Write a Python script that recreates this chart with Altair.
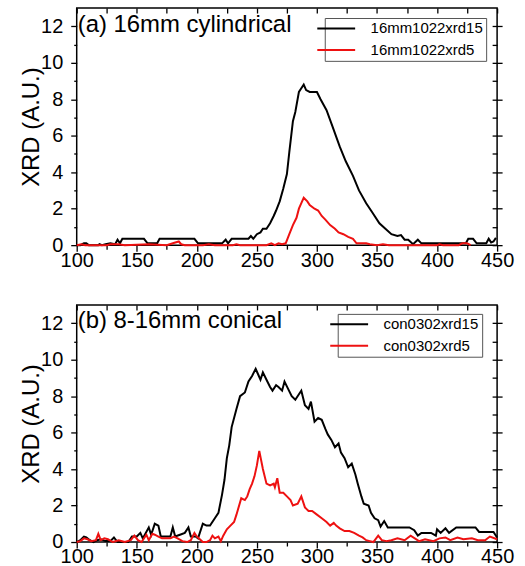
import altair as alt
import pandas as pd

FONT = "Liberation Sans"

# ---------------- data ----------------
panel_titles = ["(a) 16mm cylindrical", "(b) 8-16mm conical"]
a_series = ["16mm1022xrd15", "16mm1022xrd5"]
b_series = ["con0302xrd15", "con0302xrd5"]

a_black_x = [100, 103, 106, 108, 110, 118, 119, 121, 124, 128, 132, 134, 136, 138, 156, 159, 167, 169, 198, 201,
             221, 224, 226, 229, 243, 245, 247, 250, 253, 255, 258, 261, 264, 266, 269, 272, 275, 277, 280, 282,
             285, 287, 289, 291, 294, 300, 303, 308, 313, 319, 324, 330, 335, 341, 346, 352, 357, 362, 367, 370,
             373, 376, 380, 384, 387, 424, 426, 430, 433, 441, 443, 445, 447, 449]
a_black_y = [0.0, 0.0, 0.1, 0.1, 0.0, 0.0, 0.05, 0.0, 0.05, 0.1, 0.05, 0.3, 0.1, 0.35, 0.35, 0.1, 0.1, 0.35, 0.35, 0.1,
             0.1, 0.3, 0.1, 0.35, 0.35, 0.5, 0.35, 0.6, 0.7, 0.9, 0.9, 1.2, 1.6, 1.9, 2.4, 3.1, 3.9, 5.1, 6.8, 7.3,
             8.4, 8.6, 8.8, 8.5, 8.4, 8.4, 8.0, 7.4, 6.5, 5.4, 4.6, 3.8, 3.0, 2.3, 1.8, 1.2, 0.9, 0.6, 0.5, 0.55,
             0.3, 0.3, 0.05, 0.3, 0.1, 0.1, 0.35, 0.35, 0.1, 0.1, 0.35, 0.15, 0.2, 0.4]

a_red_x = [100, 104, 107, 125, 128, 135, 140, 160, 175, 180, 185, 187, 190, 205, 210, 215, 230, 233, 236, 258,
           262, 265, 268, 271, 274, 277, 280, 283, 285, 287, 289, 292, 294, 298, 301, 304, 307, 311, 315, 318,
           322, 326, 330, 333, 341, 344, 350, 355, 360, 400, 402, 405, 418, 421, 425, 428]
a_red_y = [0.0, 0.05, 0.0, 0.0, 0.05, 0.05, 0.0, 0.05, 0.0, 0.1, 0.2, 0.05, 0.0, 0.0, 0.05, 0.0, 0.0, 0.05, 0.0, 0.0,
           0.1, 0.0, 0.1, 0.05, 0.1, 0.6, 1.1, 1.5, 2.0, 2.3, 2.6, 2.4, 2.2, 2.0, 1.9, 1.6, 1.4, 1.1, 0.9, 0.7,
           0.6, 0.45, 0.35, 0.1, 0.1, 0.05, 0.0, 0.05, 0.0, 0.0, 0.05, 0.0, 0.0, 0.1, 0.1, 0.0]

b_black_x = [100, 103, 106, 108, 111, 114, 117, 120, 124, 128, 131, 134, 143, 146, 150, 153, 155, 160, 162, 165,
             168, 170, 175, 178, 180, 182, 186, 190, 193, 195, 199, 201, 205, 208, 211, 215, 218, 221, 223, 225,
             227, 229, 233, 236, 240, 243, 246, 249, 251, 253, 255, 258, 261, 263, 266, 268, 271, 273, 276, 279,
             282, 285, 287, 290, 293, 295, 298, 301, 304, 307, 309, 312, 315, 318, 320, 323, 326, 329, 332, 334,
             337, 339, 343, 345, 348, 351, 353, 356, 359, 363, 377, 381, 384, 387, 395, 399, 400, 403, 407, 410,
             416, 432, 435, 447, 450]
b_black_y = [0.0, 0.1, 0.3, 0.25, 0.1, 0.0, 0.1, 0.15, 0.05, 0.05, 0.25, 0.0, 0.0, 0.3, 0.3, 0.5, 0.2, 0.8, 0.4, 1.0,
             0.9, 0.3, 0.3, 0.3, 0.8, 0.3, 0.4, 0.5, 0.8, 0.3, 0.3, 0.2, 1.0, 0.9, 0.9, 1.3, 1.6, 2.6, 3.4, 4.6,
             5.3, 6.3, 7.3, 8.0, 8.2, 8.8, 9.1, 9.5, 9.2, 8.9, 9.3, 8.9, 8.5, 8.3, 8.6, 8.5, 8.3, 8.8, 8.4, 8.0,
             7.8, 8.1, 8.3, 7.5, 7.3, 7.7, 6.6, 6.8, 6.7, 6.2, 5.9, 5.6, 5.2, 5.4, 4.9, 4.6, 4.1, 4.3, 3.7, 3.2,
             2.5, 2.1, 2.0, 1.6, 1.3, 1.2, 0.85, 1.15, 0.8, 0.8, 0.8, 0.65, 0.35, 0.5, 0.5, 0.35, 0.7, 0.5, 0.75, 0.5,
             0.8, 0.8, 0.55, 0.55, 0.25]

b_red_x = [100, 103, 106, 109, 112, 116, 118, 120, 123, 126, 130, 135, 140, 145, 148, 151, 154, 158, 160, 163,
           165, 168, 171, 175, 178, 181, 184, 188, 192, 195, 198, 200, 205, 208, 211, 213, 215, 218, 220, 222,
           225, 228, 231, 233, 237, 240, 242, 244, 246, 248, 250, 252, 255, 258, 261, 264, 265, 267, 269, 272,
           275, 278, 280, 284, 287, 290, 293, 296, 300, 304, 308, 311, 314, 316, 319, 323, 327, 331, 335, 338,
           341, 344, 347, 351, 354, 358, 362, 367, 373, 378, 385, 390, 397, 402, 407, 411, 417, 422, 429, 434,
           440, 444, 450]
b_red_y = [0.0, 0.05, 0.2, 0.15, 0.05, 0.1, 0.45, 0.1, 0.2, 0.15, 0.0, 0.1, 0.0, 0.1, 0.35, 0.1, 0.0, 0.4, 0.1, 0.45,
           0.4, 0.3, 0.2, 0.2, 0.2, 0.3, 0.2, 0.05, 0.0, 0.1, 0.5, 0.3, 0.0, 0.0, 0.1, 0.35, 0.2, 0.3, 0.05, 0.35,
           0.7, 0.9, 1.1, 1.5, 2.4, 2.3, 2.5, 2.9, 3.2, 3.6, 4.2, 5.0, 4.0, 3.2, 3.1, 3.2, 3.0, 3.5, 2.7, 2.7,
           2.5, 2.3, 2.0, 2.1, 2.5, 1.9, 1.7, 1.7, 1.5, 1.3, 1.1, 0.9, 1.05, 0.9, 0.75, 0.6, 0.6, 0.5, 0.35, 0.25,
           0.1, 0.05, 0.0, 0.35, 0.1, 0.05, 0.1, 0.2, 0.1, 0.35, 0.05, 0.15, 0.05, 0.2, 0.25, 0.1, 0.25, 0.15, 0.2, 0.1,
           0.1, 0.3, 0.15]

x_ticks = list(range(100, 451, 25))
y_ticks = list(range(0, 13, 1))


def make_df(names, bx, by, rx, ry):
    return pd.concat([
        pd.DataFrame({"x": bx, "y": by, "series": names[0], "order": range(len(bx))}),
        pd.DataFrame({"x": rx, "y": ry, "series": names[1], "order": range(len(rx))}),
    ], ignore_index=True)


def panel(title, names, df, legend_x, legend_y, title_y):
    xscale = alt.Scale(domain=[100, 450], nice=False, zero=False)
    yscale = alt.Scale(domain=[0, 13], nice=False)
    color = alt.Color(
        "series:N",
        scale=alt.Scale(domain=names, range=["black", "#ee1111"]),
        legend=alt.Legend(
            title=None, orient="none", legendX=legend_x, legendY=legend_y,
            strokeColor="#555555", fillColor="white", padding=3, cornerRadius=0,
            symbolType="M-3.8,0H3.8", symbolSize=100, symbolStrokeWidth=2,
            symbolOffset=1, labelOffset=27,
            labelFont=FONT, labelFontSize=15, labelColor="black", rowPadding=5.5,
        ),
    )
    x_main = alt.Axis(
        values=x_ticks, title=None, domain=False, grid=False,
        labelExpr="datum.value % 50 === 0 ? datum.label : ''",
        labelFlush=False, labelOverlap=False,
        labelFont=FONT, labelFontSize=20, labelColor="black", labelPadding=-1,
        tickColor="black", tickWidth=1.3,
        tickSize={"condition": {"test": "datum.value % 50 === 0", "value": 6}, "value": 4},
    )
    y_main = alt.Axis(
        values=y_ticks, title="XRD (A.U.)", domain=False, grid=False,
        labelExpr="datum.value % 2 === 0 ? datum.label : ''",
        labelFlush=False, labelOverlap=False,
        labelFont=FONT, labelFontSize=20, labelColor="black", labelPadding=8,
        titleFont=FONT, titleFontSize=24, titleFontWeight="normal", titleColor="black",
        titlePadding=-3,
        tickColor="black", tickWidth=1.3,
        tickSize={"condition": {"test": "datum.value % 2 === 0", "value": 6}, "value": 3},
    )
    x_top = alt.Axis(values=x_ticks, orient="top", title=None, labels=False, domain=False,
                     grid=False, offset=-5, tickSize=5, tickColor="black", tickWidth=1.3)
    y_right = alt.Axis(values=y_ticks, orient="right", title=None, labels=False, domain=False,
                       grid=False, offset=-5, tickColor="black", tickWidth=1.3,
                       tickSize={"condition": {"test": "datum.value % 2 === 0", "value": 10}, "value": 5})

    black = alt.Chart(df[df.series == names[0]]).mark_line(strokeWidth=2).encode(
        x=alt.X("x:Q", scale=xscale, axis=x_main),
        y=alt.Y("y:Q", scale=yscale, axis=y_main),
        color=color, order="order:Q",
    )
    red = alt.Chart(df[df.series == names[1]]).mark_line(strokeWidth=2).encode(
        x=alt.X("x:Q", scale=xscale, axis=x_top),
        y=alt.Y("y:Q", scale=yscale, axis=y_right),
        color=color, order="order:Q",
    )
    label = alt.Chart(pd.DataFrame({"t": [title]})).mark_text(
        align="left", baseline="alphabetic", font=FONT, fontSize=24, color="black"
    ).encode(x=alt.value(1), y=alt.value(title_y), text="t:N")

    return alt.layer(black, red, label).resolve_axis(x="independent", y="independent").properties(
        width=422, height=238
    )


df_a = make_df(a_series, a_black_x, a_black_y, a_red_x, a_red_y)
df_b = make_df(b_series, b_black_x, b_black_y, b_red_x, b_red_y)

top = panel(panel_titles[0], a_series, df_a, 249, 10, 24)
bottom = panel(panel_titles[1], b_series, df_b, 262, 9, 23)

chart = alt.vconcat(top, bottom, spacing=32).resolve_scale(color="independent").properties(
    padding={"left": 19, "top": 5, "right": 10, "bottom": 0},
    background="white",
).configure_view(stroke="black", strokeWidth=1.5)

chart.save("out.html", embed_options={"renderer": "svg", "actions": False})
